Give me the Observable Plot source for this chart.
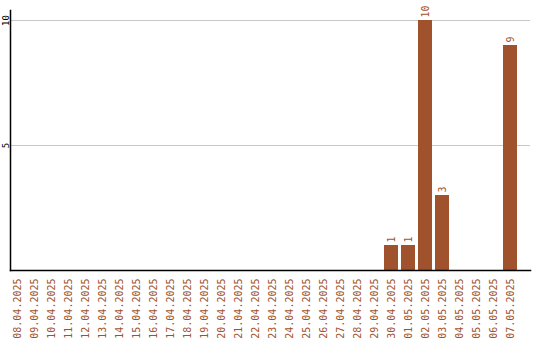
<!DOCTYPE html>
<html>
<head>
<meta charset="utf-8">
<script src="https://cdn.jsdelivr.net/npm/d3@7"></script>
<script src="https://cdn.jsdelivr.net/npm/@observablehq/plot@0.6"></script>
<style>
  body { margin: 0; background: #fff; }
  svg { display: block; }
</style>
</head>
<body>
<div id="chart"></div>
<script>
const dates = ["08.04.2025","09.04.2025","10.04.2025","11.04.2025","12.04.2025","13.04.2025","14.04.2025","15.04.2025","16.04.2025","17.04.2025","18.04.2025","19.04.2025","20.04.2025","21.04.2025","22.04.2025","23.04.2025","24.04.2025","25.04.2025","26.04.2025","27.04.2025","28.04.2025","29.04.2025","30.04.2025","01.05.2025","02.05.2025","03.05.2025","04.05.2025","05.05.2025","06.05.2025","07.05.2025"];
const values = [0,0,0,0,0,0,0,0,0,0,0,0,0,0,0,0,0,0,0,0,0,0,1,1,10,3,0,0,0,9];
const yTicks = [5, 10];

const data = dates.map((d, i) => ({date: d, value: values[i]}));
const color = "#a0522d";
const font = "DejaVu Sans Mono, monospace";

const chart = Plot.plot({
  width: 540,
  height: 340,
  marginLeft: 10,
  marginRight: 10,
  marginTop: 10,
  marginBottom: 70,
  style: {fontFamily: font, fontSize: "10px", background: "#fff"},
  x: {domain: dates, range: [8.5, 518.5], paddingInner: 0.18, paddingOuter: 0, label: null},
  y: {domain: [0, 10.4], label: null},
  marks: [
    Plot.ruleY(yTicks, {stroke: "#c8c8c8", strokeWidth: 1}),
    Plot.barY(data, {x: "date", y: "value", fill: color}),
    Plot.text(data.filter(d => d.value > 0), {x: "date", y: "value", text: d => String(d.value), rotate: -90, textAnchor: "start", dy: -3, fill: color, fontSize: 10}),
    Plot.axisX({tickSize: 0, tickPadding: 8, tickRotate: -90, color: color, fontSize: 10, label: null}),
    Plot.axisY({ticks: yTicks, tickSize: 0, tickPadding: 2, tickRotate: -90, fontSize: 9, label: null, color: "#000"}),
    Plot.frame({anchor: "left", stroke: "#000", strokeWidth: 1.5}),
    Plot.frame({anchor: "bottom", stroke: "#000", strokeWidth: 1.5})
  ]
});
document.getElementById("chart").appendChild(chart);
</script>
</body>
</html>
